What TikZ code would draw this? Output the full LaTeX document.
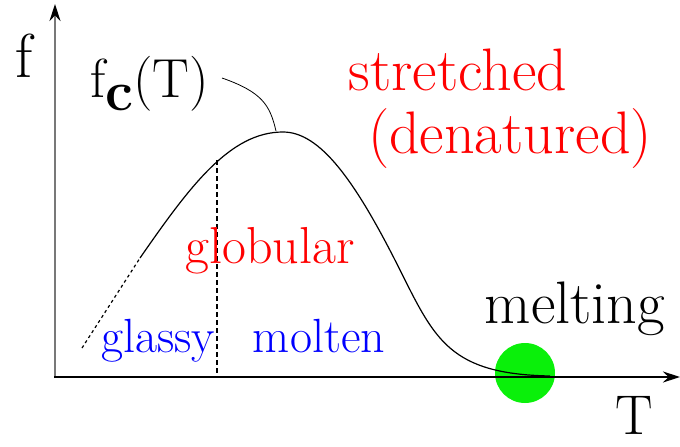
\documentclass[tikz,border=0pt]{standalone}
\usepackage{xcolor}
\usepackage{tikz}
\usetikzlibrary{arrows.meta}
\definecolor{hotred}{RGB}{255,0,0}
\definecolor{coolblue}{RGB}{0,0,255}
\definecolor{meltgreen}{RGB}{10,240,10}
\definecolor{axisgray}{RGB}{120,120,120}

\begin{document}
\begin{tikzpicture}[x=1pt, y=-1pt,
  lbl/.style={inner sep=0pt, anchor=base, font=\fontsize{60}{70}\selectfont},
  small/.style={lbl, font=\fontsize{48}{56}\selectfont},
  axis/.style={line width=1.4pt, -{Stealth[length=17pt, width=11pt, black]}},
  curve/.style={line width=1.2pt}]
  \useasboundingbox (0,0) rectangle (680,447);
  % melting point marker (behind everything)
  \node[circle, fill=meltgreen, minimum size=60pt, inner sep=0pt] (melt) at (525,373) {};
  % axes
  \coordinate (origin) at (55,377);
  \draw[axis, axisgray] (55,378) -- (55,4) coordinate (ytip);
  \draw[axis] (54,377) -- (680,377) coordinate (xtip);
  \node[lbl, font=\fontsize{62}{70}\selectfont] (flab) at (24,77) {f};
  \node[lbl, font=\fontsize{56}{64}\selectfont] (Tlab) at (634,434) {T};
  % f_c(T) curve
  \coordinate (low) at (82,348);
  \coordinate (start) at (140,258);
  \coordinate (top) at (283,132);
  \coordinate (bend) at (400,270);
  \coordinate (tail) at (550,376);
  \draw[curve, dash pattern=on 3pt off 3pt] (low) -- (start);
  \draw[curve] (start) .. controls (190,186) and (230,132) .. (top)
    .. controls (320,132) and (355,180) .. (bend)
    .. controls (435,340) and (450,374) .. (tail);
  % glassy / molten boundary
  \coordinate (gm) at (217,160);
  \draw[line width=1.2pt, dash pattern=on 5pt off 3pt] (gm) -- (gm |- origin);
  % label with leader
  \node[lbl, anchor=base west, font=\fontsize{55}{60}\selectfont] (fc) at (90,97) {f\raisebox{-13pt}{\fontsize{56}{60}\selectfont\bfseries c}(T)};
  \coordinate (lead) at (222,78);
  \coordinate (peak) at (276,131);
  \draw[line width=0.8pt] (lead) .. controls (262,92) and (270,105) .. (peak);
  % phases
  \node[lbl, hotred] (str) at (458,90) {stretched};
  \node[lbl, hotred] (den) at (510,153) {(denatured)};
  \node[lbl, hotred, font=\fontsize{52}{60}\selectfont] (glob) at (270,263) {globular};
  \node[small, coolblue] (glassy) at (158,352) {glassy};
  \node[small, coolblue] (molten) at (319,352) {molten};
  \node[lbl] (mlab) at (575,323) {melting};
\end{tikzpicture}
\end{document}
